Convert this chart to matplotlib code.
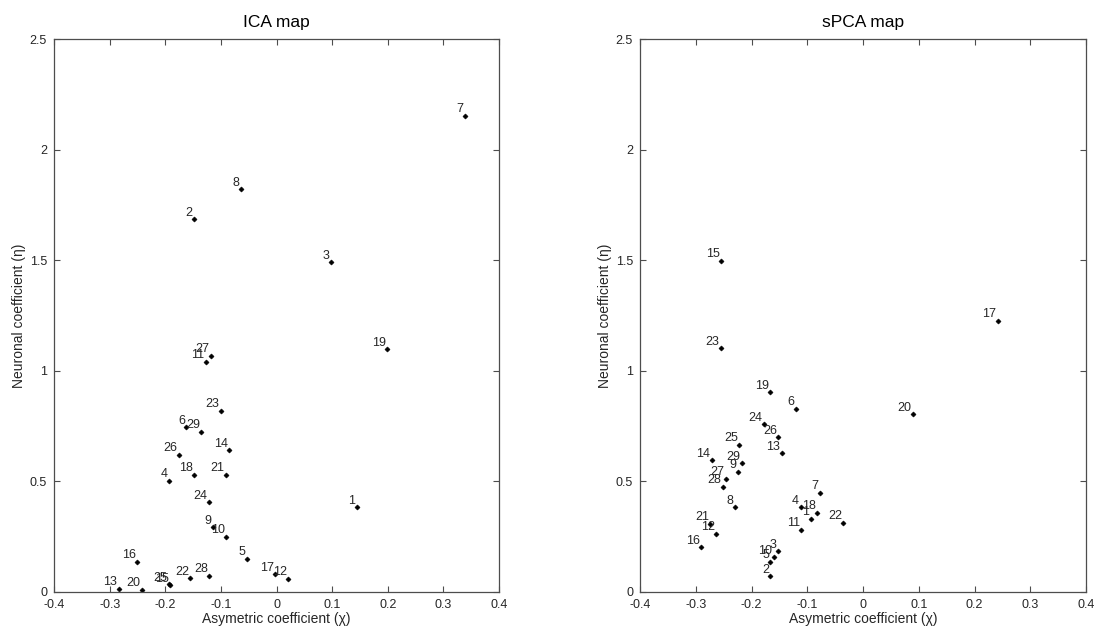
import numpy as np
import matplotlib
matplotlib.use("Agg")
import matplotlib.pyplot as plt

plt.rcParams['font.family'] = ['Liberation Sans', 'DejaVu Sans']

# ICA map: component number, asymmetric coefficient, neuronal coefficient
ica_ids = [1, 2, 3, 4, 5, 6, 7, 8, 9, 10, 11, 12, 13, 14, 15,
           16, 17, 18, 19, 20, 21, 22, 23, 24, 25, 26, 27, 28, 29]
ica_chi = [0.144, -0.148, 0.098, -0.193, -0.053, -0.162, 0.339, -0.064, -0.115, -0.090,
           -0.127, 0.021, -0.284, -0.085, -0.191, -0.250, -0.002, -0.148, 0.199, -0.242,
           -0.091, -0.155, -0.100, -0.121, -0.194, -0.175, -0.118, -0.121, -0.135]
ica_eta = [0.383, 1.685, 1.490, 0.502, 0.149, 0.745, 2.152, 1.820, 0.292, 0.250,
           1.040, 0.059, 0.014, 0.640, 0.030, 0.137, 0.080, 0.529, 1.097, 0.009,
           0.529, 0.062, 0.820, 0.405, 0.035, 0.621, 1.067, 0.074, 0.723]

# sPCA map
spca_ids = ica_ids
spca_chi = [-0.094, -0.166, -0.152, -0.112, -0.166, -0.120, -0.077, -0.230, -0.224, -0.160,
            -0.111, -0.263, -0.146, -0.271, -0.255, -0.290, 0.242, -0.082, -0.166, 0.090,
            -0.274, -0.035, -0.255, -0.178, -0.222, -0.152, -0.246, -0.252, -0.217]
spca_eta = [0.331, 0.071, 0.184, 0.383, 0.136, 0.827, 0.449, 0.383, 0.542, 0.157,
            0.282, 0.264, 0.627, 0.595, 1.498, 0.202, 1.227, 0.357, 0.903, 0.803,
            0.307, 0.312, 1.102, 0.758, 0.665, 0.699, 0.511, 0.475, 0.582]

x_ticks = [-0.4, -0.3, -0.2, -0.1, 0, 0.1, 0.2, 0.3, 0.4]
x_ticklabels = ['-0.4', '-0.3', '-0.2', '-0.1', '0', '0.1', '0.2', '0.3', '0.4']
y_ticks = [0, 0.5, 1, 1.5, 2, 2.5]
y_ticklabels = ['0', '0.5', '1', '1.5', '2', '2.5']

text_color = '#262626'
edge_color = '#4d4d4d'

fig = plt.figure(figsize=(10.95, 6.33), dpi=100)
ax1 = fig.add_axes([54 / 1095, 41 / 633, 445 / 1095, 553 / 633])
ax2 = fig.add_axes([640 / 1095, 41 / 633, 446 / 1095, 553 / 633])


def draw_map(ax, ids, chi, eta, title):
    ax.plot(chi, eta, linestyle='none', marker='D', markersize=2.6,
            color='black', markeredgewidth=0.4)
    # number of each component, just above-left of its point
    for n, x, y in zip(ids, chi, eta):
        ax.annotate(str(n), (x, y), xytext=(-1, 0.5), textcoords='offset points',
                    ha='right', va='bottom', fontsize=9, color=text_color)
    ax.set_xlim(-0.4, 0.4)
    ax.set_ylim(0, 2.5)
    ax.set_xticks(x_ticks)
    ax.set_xticklabels(x_ticklabels)
    ax.set_yticks(y_ticks)
    ax.set_yticklabels(y_ticklabels)
    ax.tick_params(direction='in', length=4, width=0.8, color=edge_color,
                   labelsize=9, labelcolor=text_color, pad=5,
                   top=True, right=True)
    for s in ax.spines.values():
        s.set_color(edge_color)
        s.set_linewidth(0.9)
    ax.set_xlabel('Asymetric coefficient (\u03c7)', fontsize=10, color=text_color, labelpad=1)
    ax.set_ylabel('Neuronal coefficient (\u03b7)', fontsize=10, color=text_color, labelpad=3)
    ax.set_title(title, fontsize=12.5, color='black', pad=9)


draw_map(ax1, ica_ids, ica_chi, ica_eta, 'ICA map')
draw_map(ax2, spca_ids, spca_chi, spca_eta, 'sPCA map')

fig.savefig('out.png', dpi=100)
